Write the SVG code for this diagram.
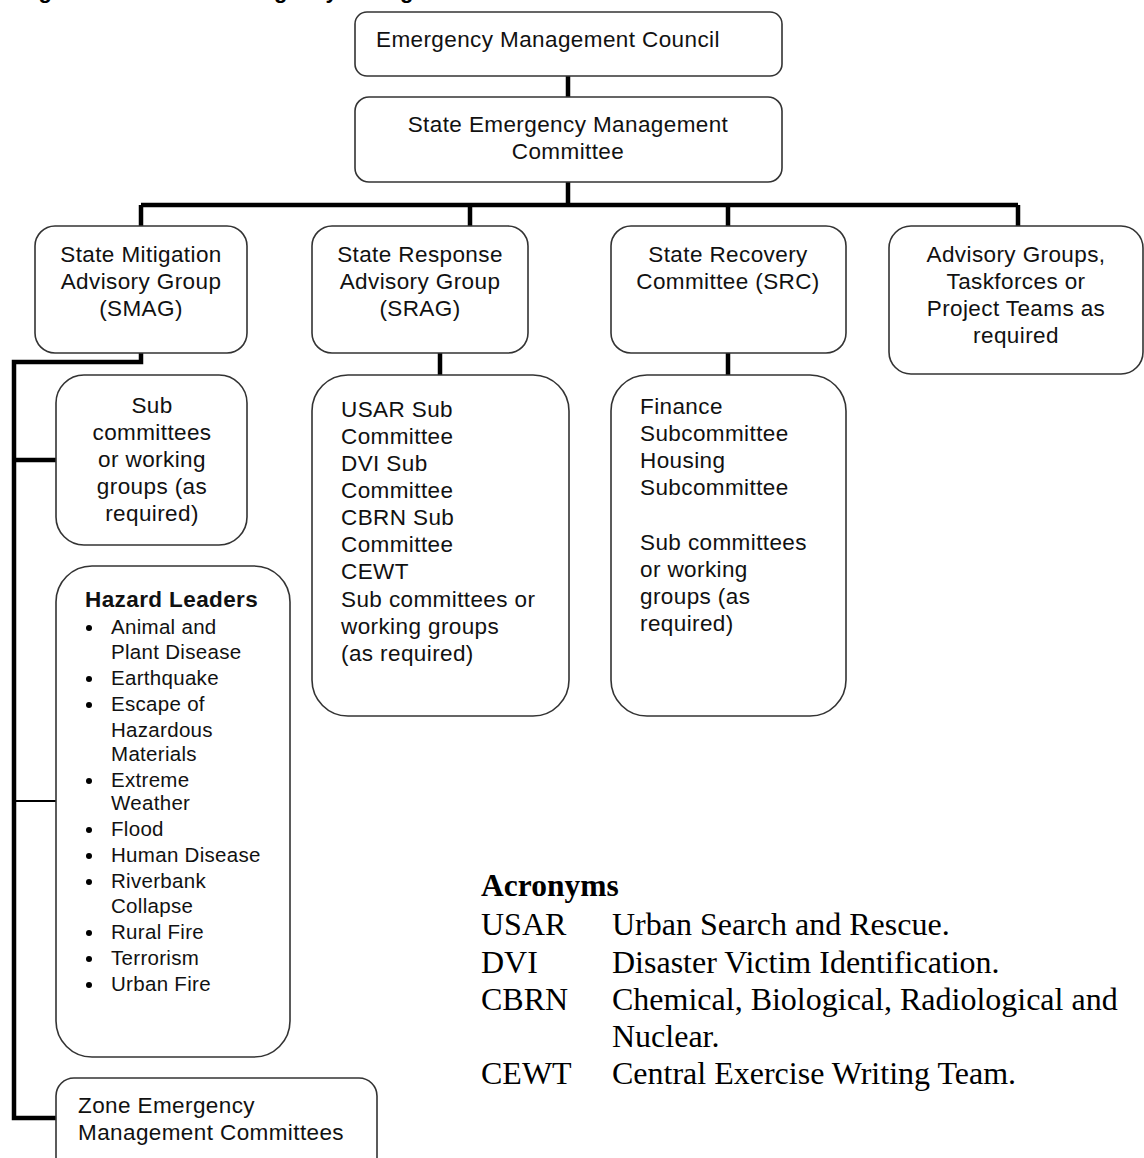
<svg xmlns="http://www.w3.org/2000/svg" width="1144" height="1158" viewBox="0 0 1144 1158">
<style>
.box{fill:#fff;stroke:#333;stroke-width:1.6}
.t{font-family:"Liberation Sans",Arial,sans-serif;font-size:22.5px;letter-spacing:0.4px;fill:#111}
.c{text-anchor:middle}
.h{font-family:"Liberation Sans",Arial,sans-serif;font-size:22.5px;letter-spacing:0.4px;font-weight:bold;fill:#111}
.l{font-family:"Liberation Sans",Arial,sans-serif;font-size:20.5px;letter-spacing:0.3px;fill:#111}
.a{font-family:"Liberation Serif","Times New Roman",serif;font-size:32px;fill:#000}
.ab{font-family:"Liberation Serif","Times New Roman",serif;font-size:31.5px;font-weight:bold;fill:#000}
.ti{font-family:"Liberation Sans",Arial,sans-serif;font-size:22px;font-weight:bold;fill:#000}
.k{fill:none;stroke:#000;stroke-width:4.5}
.k2{fill:none;stroke:#000;stroke-width:2}
</style>
<text class="ti" x="19" y="-2">Figure 2: State <tspan x="219">Emergency Management Structure</tspan></text>
<g id="connectors">
<path class="k" d="M568 76V97M568 182V205M141 205H1018M141 205V226M470 205V226M728 205V226M1018 205V226"/>
<path class="k" d="M141 353V362H14V1118H56M14 460H56M440 353V375M728 353V375"/>
<path class="k2" d="M14 801H56"/>
</g>
<g id="emc">
<rect class="box" x="355" y="12" width="427" height="64" rx="12"/>
<text class="t" x="376" y="47">Emergency Management Council</text>
</g>
<g id="semc">
<rect class="box" x="355" y="97" width="427" height="85" rx="14"/>
<text class="t c" x="568" y="132">State Emergency Management</text>
<text class="t c" x="568" y="159">Committee</text>
</g>
<g id="smag">
<rect class="box" x="35" y="226" width="212" height="127" rx="20"/>
<text class="t c" x="141" y="262">State Mitigation</text>
<text class="t c" x="141" y="289">Advisory Group</text>
<text class="t c" x="141" y="316">(SMAG)</text>
</g>
<g id="srag">
<rect class="box" x="312" y="226" width="216" height="127" rx="20"/>
<text class="t c" x="420" y="262">State Response</text>
<text class="t c" x="420" y="289">Advisory Group</text>
<text class="t c" x="420" y="316">(SRAG)</text>
</g>
<g id="src">
<rect class="box" x="611" y="226" width="235" height="127" rx="20"/>
<text class="t c" x="728" y="262">State Recovery</text>
<text class="t c" x="728" y="289">Committee (SRC)</text>
</g>
<g id="advisory">
<rect class="box" x="889" y="226" width="254" height="148" rx="22"/>
<text class="t c" x="1016" y="262">Advisory Groups,</text>
<text class="t c" x="1016" y="289">Taskforces or</text>
<text class="t c" x="1016" y="316">Project Teams as</text>
<text class="t c" x="1016" y="343">required</text>
</g>
<g id="smag-sub">
<rect class="box" x="56" y="375" width="191" height="170" rx="28"/>
<text class="t c" x="152" y="413">Sub</text>
<text class="t c" x="152" y="440">committees</text>
<text class="t c" x="152" y="467">or working</text>
<text class="t c" x="152" y="494">groups (as</text>
<text class="t c" x="152" y="521">required)</text>
</g>
<g id="hazard">
<rect class="box" x="56" y="566" width="234" height="491" rx="36"/>
<text class="h" x="85" y="607">Hazard Leaders</text>
<g class="l">
<text x="111" y="634">Animal and</text>
<text x="111" y="659">Plant Disease</text>
<text x="111" y="685">Earthquake</text>
<text x="111" y="711">Escape of</text>
<text x="111" y="737">Hazardous</text>
<text x="111" y="761">Materials</text>
<text x="111" y="787">Extreme</text>
<text x="111" y="810">Weather</text>
<text x="111" y="836">Flood</text>
<text x="111" y="862">Human Disease</text>
<text x="111" y="888">Riverbank</text>
<text x="111" y="913">Collapse</text>
<text x="111" y="939">Rural Fire</text>
<text x="111" y="965">Terrorism</text>
<text x="111" y="991">Urban Fire</text>
</g>
<g fill="#000">
<circle cx="89" cy="628" r="3"/><circle cx="89" cy="679" r="3"/><circle cx="89" cy="705" r="3"/>
<circle cx="89" cy="781" r="3"/><circle cx="89" cy="830" r="3"/><circle cx="89" cy="856" r="3"/>
<circle cx="89" cy="882" r="3"/><circle cx="89" cy="933" r="3"/><circle cx="89" cy="959" r="3"/>
<circle cx="89" cy="985" r="3"/>
</g>
</g>
<g id="zone">
<rect class="box" x="56" y="1078" width="321" height="100" rx="18"/>
<text class="t" x="78" y="1113">Zone Emergency</text>
<text class="t" x="78" y="1140">Management Committees</text>
</g>
<g id="srag-sub">
<rect class="box" x="312" y="375" width="257" height="341" rx="36"/>
<text class="t" x="341" y="417">USAR Sub</text>
<text class="t" x="341" y="444">Committee</text>
<text class="t" x="341" y="471">DVI Sub</text>
<text class="t" x="341" y="498">Committee</text>
<text class="t" x="341" y="525">CBRN Sub</text>
<text class="t" x="341" y="552">Committee</text>
<text class="t" x="341" y="579">CEWT</text>
<text class="t" x="341" y="607">Sub committees or</text>
<text class="t" x="341" y="634">working groups</text>
<text class="t" x="341" y="661">(as required)</text>
</g>
<g id="src-sub">
<rect class="box" x="611" y="375" width="235" height="341" rx="36"/>
<text class="t" x="640" y="414">Finance</text>
<text class="t" x="640" y="441">Subcommittee</text>
<text class="t" x="640" y="468">Housing</text>
<text class="t" x="640" y="495">Subcommittee</text>
<text class="t" x="640" y="550">Sub committees</text>
<text class="t" x="640" y="577">or working</text>
<text class="t" x="640" y="604">groups (as</text>
<text class="t" x="640" y="631">required)</text>
</g>
<g id="acronyms">
<text class="ab" x="481" y="896">Acronyms</text>
<text class="a" x="481" y="935">USAR</text><text class="a" x="612" y="935">Urban Search and Rescue.</text>
<text class="a" x="481" y="973">DVI</text><text class="a" x="612" y="973">Disaster Victim Identification.</text>
<text class="a" x="481" y="1010">CBRN</text><text class="a" x="612" y="1010">Chemical, Biological, Radiological and</text>
<text class="a" x="612" y="1047">Nuclear.</text>
<text class="a" x="481" y="1084">CEWT</text><text class="a" x="612" y="1084">Central Exercise Writing Team.</text>
</g>
</svg>
